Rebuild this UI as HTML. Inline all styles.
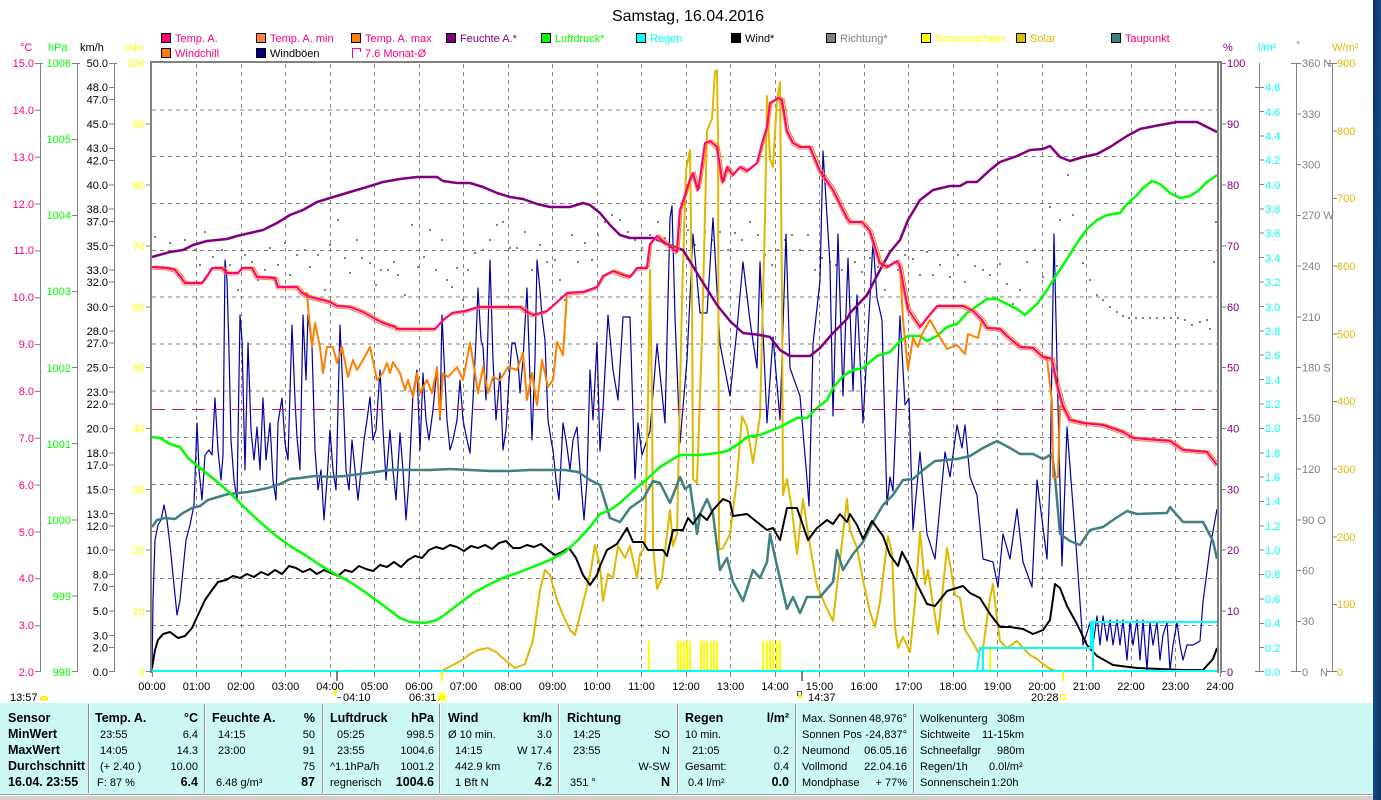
<!DOCTYPE html>
<html><head><meta charset="utf-8">
<style>
html,body{margin:0;padding:0;background:#fff;}
svg{display:block;font-family:"Liberation Sans",Arial,sans-serif;}
</style></head><body>
<svg width="1381" height="800" viewBox="0 0 1381 800" xmlns="http://www.w3.org/2000/svg">
<defs>
<linearGradient id="stripe" x1="0" y1="0" x2="1" y2="1">
<stop offset="0" stop-color="#0e2f5c"/><stop offset="0.5" stop-color="#134a86"/><stop offset="1" stop-color="#0b3466"/>
</linearGradient>
</defs>
<rect width="1381" height="800" fill="#fff"/>

<!-- Title -->
<text x="688" y="21" font-size="16" text-anchor="middle" fill="#000">Samstag, 16.04.2016</text>

<!-- Legend -->
<g font-size="11">
<rect x="161.5" y="33.5" width="9" height="9" fill="#ff0080" stroke="#000"/><text x="175" y="42" fill="#ff0080">Temp. A.</text>
<rect x="256.5" y="33.5" width="9" height="9" fill="#ff8040" stroke="#000"/><text x="270" y="42" fill="#ff0080">Temp. A. min</text>
<rect x="351.5" y="33.5" width="9" height="9" fill="#ff8000" stroke="#000"/><text x="365" y="42" fill="#ff0080">Temp. A. max</text>
<rect x="446.5" y="33.5" width="9" height="9" fill="#800080" stroke="#000"/><text x="460" y="42" fill="#800080">Feuchte A.*</text>
<rect x="541.5" y="33.5" width="9" height="9" fill="#00ff00" stroke="#000"/><text x="555" y="42" fill="#00ff00">Luftdruck*</text>
<rect x="636.5" y="33.5" width="9" height="9" fill="#00ffff" stroke="#000"/><text x="650" y="42" fill="#00ffff">Regen</text>
<rect x="731.5" y="33.5" width="9" height="9" fill="#000" stroke="#000"/><text x="745" y="42" fill="#000">Wind*</text>
<rect x="826.5" y="33.5" width="9" height="9" fill="#808080" stroke="#000"/><text x="840" y="42" fill="#808080">Richtung*</text>
<rect x="921.5" y="33.5" width="9" height="9" fill="#ffff00" stroke="#000"/><text x="935" y="42" fill="#ffff00">Sonnenschein</text>
<rect x="1016.5" y="33.5" width="9" height="9" fill="#e0b800" stroke="#000"/><text x="1030" y="42" fill="#e0b800">Solar</text>
<rect x="1111.5" y="33.5" width="9" height="9" fill="#408080" stroke="#000"/><text x="1125" y="42" fill="#ff0080">Taupunkt</text>
<rect x="161.5" y="48.5" width="9" height="9" fill="#ff8000" stroke="#000"/><text x="175" y="57" fill="#ff0080">Windchill</text>
<rect x="256.5" y="48.5" width="9" height="9" fill="#000080" stroke="#000"/><text x="270" y="57" fill="#000">Windböen</text>
<path d="M352.5,58 V48.5 H360.5 V52" fill="none" stroke="#ff0080"/><text x="365" y="57" fill="#ff0080">7.6 Monat-Ø</text>
</g>

<!-- Units -->
<g font-size="11">
<text x="20" y="51" fill="#ff0080">°C</text>
<text x="48" y="51" fill="#00ff00">hPa</text>
<text x="80" y="51" fill="#000">km/h</text>
<text x="125" y="51" fill="#ffff00">min</text>
<text x="1223" y="51" fill="#800080">%</text>
<text x="1258" y="51" fill="#00ffff">l/m²</text>
<text x="1296" y="49" fill="#808080">°</text>
<text x="1332" y="51" fill="#e0b800">W/m²</text>
</g>

<!-- Left axis lines -->
<g stroke="#808080" stroke-width="1" fill="none">
<line x1="40.5" y1="63" x2="40.5" y2="672"/>
<line x1="77.5" y1="63" x2="77.5" y2="672"/>
<line x1="114.5" y1="63" x2="114.5" y2="672"/>
<line x1="1259.5" y1="63" x2="1259.5" y2="672"/>
<line x1="1296.5" y1="63" x2="1296.5" y2="672"/>
<line x1="1332.5" y1="63" x2="1332.5" y2="672"/>
</g>

<!-- °C axis -->
<g font-size="11" fill="#ff0080" text-anchor="end">
<text x="34" y="67">15.0</text><text x="34" y="114">14.0</text><text x="34" y="161">13.0</text><text x="34" y="208">12.0</text><text x="34" y="254">11.0</text><text x="34" y="301">10.0</text><text x="34" y="348">9.0</text><text x="34" y="395">8.0</text><text x="34" y="442">7.0</text><text x="34" y="489">6.0</text><text x="34" y="536">5.0</text><text x="34" y="582">4.0</text><text x="34" y="629">3.0</text><text x="34" y="676">2.0</text>
</g>
<g stroke="#808080">
<path d="M35,63.5H43M35,110.3H41M35,157.2H41M35,204H41M35,250.9H41M35,297.7H41M35,344.6H41M35,391.4H41M35,438.3H41M35,485.1H41M35,532H41M35,578.8H41M35,625.7H41M35,671.5H41"/>
</g>
<!-- hPa axis -->
<g font-size="11" fill="#00ff00" text-anchor="end">
<text x="71" y="67">1006</text><text x="71" y="143">1005</text><text x="71" y="219">1004</text><text x="71" y="295">1003</text><text x="71" y="372">1002</text><text x="71" y="448">1001</text><text x="71" y="524">1000</text><text x="71" y="600">999</text><text x="71" y="676">998</text>
</g>
<g stroke="#808080">
<path d="M72,63.5H80M72,139.5H78M72,215.5H78M72,291.5H78M72,367.5H78M72,443.5H78M72,520H78M72,596H78M72,671.5H78"/>
</g>
<!-- km/h axis -->
<g font-size="11" fill="#000" text-anchor="end">
<text x="108" y="67">50.0</text><text x="108" y="91">48.0</text><text x="108" y="103.5">47.0</text><text x="108" y="128">45.0</text><text x="108" y="152">43.0</text><text x="108" y="164.5">42.0</text><text x="108" y="189">40.0</text><text x="108" y="213">38.0</text><text x="108" y="225.5">37.0</text><text x="108" y="250">35.0</text><text x="108" y="274">33.0</text><text x="108" y="286">32.0</text><text x="108" y="311">30.0</text><text x="108" y="335">28.0</text><text x="108" y="347">27.0</text><text x="108" y="371.5">25.0</text><text x="108" y="396">23.0</text><text x="108" y="408">22.0</text><text x="108" y="432.5">20.0</text><text x="108" y="457">18.0</text><text x="108" y="469">17.0</text><text x="108" y="493.5">15.0</text><text x="108" y="518">13.0</text><text x="108" y="530">12.0</text><text x="108" y="554">10.0</text><text x="108" y="578.5">8.0</text><text x="108" y="591">7.0</text><text x="108" y="615">5.0</text><text x="108" y="639.5">3.0</text><text x="108" y="651.5">2.0</text><text x="108" y="676">0.0</text>
</g>
<g stroke="#808080">
<path d="M109,63.5H117M109,87.5H115M109,99.5H115M109,124H115M109,148.5H115M109,160.5H115M109,185H115M109,209H115M109,221.5H115M109,245.5H115M109,270H115M109,282H115M109,306.5H115M109,331H115M109,343H115M109,367.5H115M109,392H115M109,404H115M109,428.5H115M109,453H115M109,465H115M109,489.5H115M109,513.5H115M109,526H115M109,550H115M109,574.5H115M109,586.5H115M109,611H115M109,635.5H115M109,647.5H115M109,671.5H115"/>
</g>
<!-- min axis -->
<g font-size="11" fill="#ffff00" text-anchor="end">
<text x="145" y="67">100</text><text x="145" y="128">90</text><text x="145" y="189">80</text><text x="145" y="250">70</text><text x="145" y="311">60</text><text x="145" y="371.5">50</text><text x="145" y="432.5">40</text><text x="145" y="493.5">30</text><text x="145" y="554">20</text><text x="145" y="615">10</text><text x="145" y="676">0</text>
</g>
<g stroke="#808080">
<path d="M146,124H151M146,185H151M146,246H151M146,307H151M146,367.5H151M146,428.5H151M146,489.5H151M146,550H151M146,611H151M146,671.5H151"/>
</g>

<!-- Right axes -->
<g font-size="11" fill="#800080">
<text x="1227" y="67">100</text><text x="1227" y="128">90</text><text x="1227" y="189">80</text><text x="1227" y="250">70</text><text x="1227" y="311">60</text><text x="1227" y="371.5">50</text><text x="1227" y="432.5">40</text><text x="1227" y="493.5">30</text><text x="1227" y="554">20</text><text x="1227" y="615">10</text><text x="1227" y="676">0</text>
</g>
<g stroke="#808080">
<path d="M1221,63.5H1226M1221,124H1226M1221,185H1226M1221,246H1226M1221,307H1226M1221,367.5H1226M1221,428.5H1226M1221,489.5H1226M1221,550H1226M1221,611H1226M1221,671.5H1226"/>
</g>
<g font-size="11" fill="#00ffff">
<text x="1265" y="91">4.8</text><text x="1265" y="116">4.6</text><text x="1265" y="140">4.4</text><text x="1265" y="164">4.2</text><text x="1265" y="189">4.0</text><text x="1265" y="213">3.8</text><text x="1265" y="237">3.6</text><text x="1265" y="262">3.4</text><text x="1265" y="286">3.2</text><text x="1265" y="311">3.0</text><text x="1265" y="335">2.8</text><text x="1265" y="359">2.6</text><text x="1265" y="384">2.4</text><text x="1265" y="408">2.2</text><text x="1265" y="432">2.0</text><text x="1265" y="457">1.8</text><text x="1265" y="481">1.6</text><text x="1265" y="505">1.4</text><text x="1265" y="530">1.2</text><text x="1265" y="554">1.0</text><text x="1265" y="578">0.8</text><text x="1265" y="603">0.6</text><text x="1265" y="627">0.4</text><text x="1265" y="652">0.2</text><text x="1265" y="676">0.0</text>
</g>
<g stroke="#808080">
<path d="M1255,87.5H1264M1259,111.5H1264M1259,136H1264M1259,160H1264M1259,184.5H1264M1259,209H1264M1259,233H1264M1259,257.5H1264M1259,282H1264M1259,306.5H1264M1259,331H1264M1259,355H1264M1259,379.5H1264M1259,404H1264M1259,428.5H1264M1259,453H1264M1259,477H1264M1259,501.5H1264M1259,526H1264M1259,550H1264M1259,574.5H1264M1259,599H1264M1259,623.5H1264M1259,647.5H1264M1255,671.5H1264"/>
</g>
<g font-size="11" fill="#808080">
<text x="1302" y="67">360 N</text><text x="1302" y="118">330</text><text x="1302" y="168.5">300</text><text x="1302" y="219">270 W</text><text x="1302" y="270">240</text><text x="1302" y="321">210</text><text x="1302" y="371.5">180 S</text><text x="1302" y="422">150</text><text x="1302" y="473">120</text><text x="1302" y="524">90  O</text><text x="1302" y="574.5">60</text><text x="1302" y="625">30</text><text x="1302" y="676">0</text><text x="1320" y="676">N</text>
</g>
<g stroke="#808080">
<path d="M1291,63.5H1301M1296,114H1301M1296,164.5H1301M1296,215.5H1301M1296,266H1301M1296,317H1301M1296,367.5H1301M1296,418.5H1301M1296,469H1301M1296,520H1301M1296,570.5H1301M1296,621.5H1301M1291,671.5H1301"/>
</g>
<g font-size="11" fill="#e0b800">
<text x="1337" y="67">900</text><text x="1337" y="135">800</text><text x="1337" y="202">700</text><text x="1337" y="270">600</text><text x="1337" y="338">500</text><text x="1337" y="405">400</text><text x="1337" y="473">300</text><text x="1337" y="541">200</text><text x="1337" y="608">100</text><text x="1337" y="676">0</text>
</g>
<g stroke="#808080">
<path d="M1327,63.5H1337M1332,131H1337M1332,198.5H1337M1332,266H1337M1332,334H1337M1332,401.5H1337M1332,469H1337M1332,537H1337M1332,604.5H1337M1327,671.5H1337"/>
</g>

<!-- Plot grid -->
<g stroke="#808080" stroke-width="1" stroke-dasharray="4,4" fill="none">
<path d="M152,625.5H1218M152,578.5H1218M152,531.5H1218M152,484.5H1218M152,437.5H1218M152,391H1218M152,344H1218M152,297H1218M152,250.5H1218M152,203.5H1218M152,156.5H1218M152,110H1218"/>
<path d="M196.5,64V671M241.5,64V671M285.5,64V671M330.5,64V671M374.5,64V671M419.5,64V671M463.5,64V671M508.5,64V671M552.5,64V671M597.5,64V671M641.5,64V671M686.5,64V671M730.5,64V671M775.5,64V671M819.5,64V671M864.5,64V671M908.5,64V671M953.5,64V671M997.5,64V671M1042.5,64V671M1086.5,64V671M1131.5,64V671M1175.5,64V671"/>
</g>

<!-- Richtung dots -->
<g fill="#808080">
<rect x="154" y="236" width="2" height="2"/><rect x="161" y="267" width="2" height="2"/><rect x="169" y="242" width="2" height="2"/><rect x="177" y="274" width="2" height="2"/><rect x="184" y="239" width="2" height="2"/><rect x="194" y="249" width="2" height="2"/><rect x="199" y="264" width="2" height="2"/><rect x="204" y="231" width="2" height="2"/><rect x="212" y="256" width="2" height="2"/><rect x="221" y="249" width="2" height="2"/><rect x="229" y="264" width="2" height="2"/><rect x="237" y="289" width="2" height="2"/><rect x="244" y="254" width="2" height="2"/><rect x="251" y="261" width="2" height="2"/><rect x="257" y="279" width="2" height="2"/><rect x="264" y="269" width="2" height="2"/><rect x="269" y="247" width="2" height="2"/><rect x="277" y="264" width="2" height="2"/><rect x="284" y="242" width="2" height="2"/><rect x="289" y="274" width="2" height="2"/><rect x="296" y="254" width="2" height="2"/><rect x="304" y="249" width="2" height="2"/><rect x="309" y="266" width="2" height="2"/><rect x="317" y="254" width="2" height="2"/><rect x="324" y="289" width="2" height="2"/><rect x="329" y="244" width="2" height="2"/><rect x="337" y="219" width="2" height="2"/><rect x="344" y="257" width="2" height="2"/><rect x="349" y="272" width="2" height="2"/><rect x="356" y="239" width="2" height="2"/><rect x="361" y="257" width="2" height="2"/><rect x="369" y="262" width="2" height="2"/><rect x="375" y="284" width="2" height="2"/><rect x="380" y="269" width="2" height="2"/><rect x="387" y="269" width="2" height="2"/><rect x="393" y="261" width="2" height="2"/><rect x="397" y="274" width="2" height="2"/><rect x="404" y="294" width="2" height="2"/><rect x="411" y="224" width="2" height="2"/><rect x="417" y="266" width="2" height="2"/><rect x="423" y="256" width="2" height="2"/><rect x="429" y="229" width="2" height="2"/><rect x="435" y="269" width="2" height="2"/><rect x="441" y="239" width="2" height="2"/><rect x="446" y="279" width="2" height="2"/><rect x="451" y="286" width="2" height="2"/><rect x="456" y="267" width="2" height="2"/><rect x="462" y="299" width="2" height="2"/><rect x="467" y="269" width="2" height="2"/><rect x="474" y="252" width="2" height="2"/><rect x="482" y="249" width="2" height="2"/><rect x="489" y="239" width="2" height="2"/><rect x="496" y="224" width="2" height="2"/><rect x="502" y="221" width="2" height="2"/><rect x="509" y="247" width="2" height="2"/><rect x="516" y="247" width="2" height="2"/><rect x="524" y="231" width="2" height="2"/><rect x="531" y="269" width="2" height="2"/><rect x="539" y="244" width="2" height="2"/><rect x="546" y="261" width="2" height="2"/><rect x="554" y="259" width="2" height="2"/><rect x="559" y="279" width="2" height="2"/><rect x="564" y="299" width="2" height="2"/><rect x="571" y="234" width="2" height="2"/><rect x="577" y="261" width="2" height="2"/><rect x="584" y="242" width="2" height="2"/><rect x="591" y="259" width="2" height="2"/><rect x="597" y="234" width="2" height="2"/><rect x="604" y="221" width="2" height="2"/><rect x="611" y="214" width="2" height="2"/><rect x="619" y="219" width="2" height="2"/><rect x="627" y="231" width="2" height="2"/><rect x="634" y="239" width="2" height="2"/><rect x="641" y="247" width="2" height="2"/><rect x="649" y="234" width="2" height="2"/><rect x="657" y="221" width="2" height="2"/><rect x="664" y="237" width="2" height="2"/><rect x="671" y="244" width="2" height="2"/><rect x="679" y="224" width="2" height="2"/><rect x="687" y="229" width="2" height="2"/><rect x="694" y="244" width="2" height="2"/><rect x="704" y="231" width="2" height="2"/><rect x="711" y="239" width="2" height="2"/><rect x="719" y="231" width="2" height="2"/><rect x="727" y="249" width="2" height="2"/><rect x="734" y="232" width="2" height="2"/><rect x="741" y="239" width="2" height="2"/><rect x="749" y="221" width="2" height="2"/><rect x="757" y="234" width="2" height="2"/><rect x="764" y="254" width="2" height="2"/><rect x="771" y="264" width="2" height="2"/><rect x="777" y="249" width="2" height="2"/><rect x="784" y="239" width="2" height="2"/><rect x="791" y="234" width="2" height="2"/><rect x="799" y="249" width="2" height="2"/><rect x="807" y="234" width="2" height="2"/><rect x="814" y="269" width="2" height="2"/><rect x="821" y="257" width="2" height="2"/><rect x="829" y="261" width="2" height="2"/><rect x="835" y="264" width="2" height="2"/><rect x="841" y="269" width="2" height="2"/><rect x="847" y="277" width="2" height="2"/><rect x="854" y="261" width="2" height="2"/><rect x="861" y="271" width="2" height="2"/><rect x="869" y="257" width="2" height="2"/><rect x="877" y="266" width="2" height="2"/><rect x="884" y="289" width="2" height="2"/><rect x="891" y="249" width="2" height="2"/><rect x="897" y="269" width="2" height="2"/><rect x="904" y="254" width="2" height="2"/><rect x="912" y="258" width="2" height="2"/><rect x="919" y="274" width="2" height="2"/><rect x="926" y="251" width="2" height="2"/><rect x="932" y="274" width="2" height="2"/><rect x="939" y="264" width="2" height="2"/><rect x="949" y="276" width="2" height="2"/><rect x="957" y="254" width="2" height="2"/><rect x="964" y="281" width="2" height="2"/><rect x="974" y="265" width="2" height="2"/><rect x="982" y="269" width="2" height="2"/><rect x="989" y="274" width="2" height="2"/><rect x="999" y="263" width="2" height="2"/><rect x="1006" y="283" width="2" height="2"/><rect x="1012" y="303" width="2" height="2"/><rect x="1019" y="289" width="2" height="2"/><rect x="1026" y="261" width="2" height="2"/><rect x="1034" y="249" width="2" height="2"/><rect x="1042" y="276" width="2" height="2"/><rect x="1049" y="206" width="2" height="2"/><rect x="1056" y="265" width="2" height="2"/><rect x="1059" y="219" width="2" height="2"/><rect x="1067" y="174" width="2" height="2"/><rect x="1072" y="214" width="2" height="2"/><rect x="1079" y="237" width="2" height="2"/><rect x="1082" y="262" width="2" height="2"/><rect x="1089" y="279" width="2" height="2"/><rect x="1096" y="294" width="2" height="2"/><rect x="1102" y="299" width="2" height="2"/><rect x="1109" y="306" width="2" height="2"/><rect x="1116" y="311" width="2" height="2"/><rect x="1122" y="315" width="2" height="2"/><rect x="1128" y="317" width="2" height="2"/><rect x="1135" y="317" width="2" height="2"/><rect x="1142" y="317" width="2" height="2"/><rect x="1149" y="317" width="2" height="2"/><rect x="1156" y="317" width="2" height="2"/><rect x="1163" y="317" width="2" height="2"/><rect x="1170" y="317" width="2" height="2"/><rect x="1177" y="317" width="2" height="2"/><rect x="1184" y="319" width="2" height="2"/><rect x="1191" y="324" width="2" height="2"/><rect x="1199" y="321" width="2" height="2"/><rect x="1206" y="319" width="2" height="2"/><rect x="1209" y="328" width="2" height="2"/><rect x="1213" y="261" width="2" height="2"/><rect x="1215" y="221" width="2" height="2"/>
</g>

<!-- Sonnenschein bars -->
<g stroke="#ffff00" stroke-width="2">
<path d="M649,641V671M678,641V671M681,641V671M684,641V671M687,641V671M690,641V671M701,641V671M704,641V671M707,641V671M711,641V671M714,641V671M717,641V671M763,641V671M767,641V671M770,641V671M773,641V671M777,641V671M780,641V671M990,648V672"/>
</g>

<!-- Windböen -->
<polyline fill="none" stroke="#0000a0" stroke-width="1.2" stroke-linejoin="round" points="152,672 153,600 155,540 158,525 161,520 164,505 167,520 170,545 173,575 177,615 180,600 183,570 186,540 190,525 194,505 197,423 199,470 202,500 205,455 209,450 212,455 215,398 218,450 221,480 223,455 225,260 227,280 229,350 231,440 234,480 237,500 240,315 242,340 245,470 248,343 251,430 254,460 257,427 260,470 263,398 266,460 270,423 273,480 276,500 278,423 282,398 285,443 288,460 292,325 295,400 297,437 300,470 303,315 306,380 308,315 312,347 315,450 318,490 321,470 324,520 327,480 330,430 333,470 336,490 340,325 343,393 346,470 349,490 352,440 355,470 358,500 361,470 364,440 367,420 370,397 373,440 376,430 380,370 383,430 386,480 390,430 393,470 396,500 400,433 403,470 406,520 409,480 413,393 417,370 420,450 423,373 426,420 429,440 433,410 437,367 440,420 442,315 445,380 447,420 450,450 453,440 457,420 460,380 463,420 467,440 470,453 473,400 476,340 478,288 481,340 483,347 486,400 488,330 490,260 493,360 496,420 500,373 503,450 506,430 509,380 512,343 515,343 518,360 520,393 523,360 527,288 530,380 532,440 535,360 537,260 540,290 542,317 545,340 548,420 551,440 553,450 556,480 559,500 563,423 566,440 570,470 573,440 577,427 580,470 584,520 587,480 590,370 593,420 597,342 600,451 603,408 608,315 613,370 618,400 623,317 630,317 635,479 638,423 642,455 650,431 657,344 665,423 670,218 672,206 675,317 680,443 687,360 693,234 700,313 707,313 713,218 720,344 730,396 737,329 743,262 750,321 757,368 760,262 767,423 773,337 780,420 786,234 790,368 800,396 807,479 809,506 813,344 820,281 823,151 830,265 833,416 838,234 843,396 848,258 853,391 857,295 863,423 870,298 873,241 877,298 882,320 887,505 890,477 893,491 900,316 905,405 909,398 913,530 920,452 927,534 935,559 945,452 950,477 957,425 962,448 965,425 970,477 977,495 983,559 993,562 998,587 1003,534 1010,559 1017,509 1023,562 1032,587 1037,480 1047,559 1050,480 1054,234 1058,405 1062,566 1067,427 1077,559 1083,645 1090,623 1093,645 1097,616 1100,645 1103,616 1107,641 1110,620 1113,645 1117,620 1120,645 1123,620 1127,660 1130,622 1133,645 1137,620 1140,660 1143,620 1147,670 1150,622 1153,645 1157,622 1160,660 1163,635 1167,622 1170,670 1173,645 1177,622 1180,645 1183,660 1187,645 1193,645 1200,641 1203,602 1210,548 1217,509"/>

<!-- Solar -->
<polyline fill="none" stroke="#e0b800" stroke-width="2" stroke-linejoin="round" points="440,672 447,668 455,664 462,660 470,654 478,650 488,648 496,652 505,660 515,668 525,664 533,640 540,590 545,570 550,575 557,600 563,615 570,630 575,635 580,615 585,595 590,575 595,545 600,566 603,601 608,574 613,578 618,546 625,558 630,546 637,578 640,554 645,546 648,400 650,270 652,400 653,546 657,589 662,578 667,534 670,510 673,546 677,534 682,300 686,170 690,150 692,300 693,479 697,483 702,337 707,131 712,119 715,72 717,70 718,139 719,550 723,548 730,534 737,479 742,416 747,427 753,463 760,416 765,218 767,96 770,159 773,167 777,100 780,82 782,297 783,495 787,479 792,510 797,554 803,499 810,546 817,586 827,609 833,621 843,534 847,499 850,530 857,548 863,580 870,612 875,627 880,602 883,577 888,536 892,553 895,627 898,648 903,637 910,652 915,602 920,532 925,584 928,570 932,598 938,634 943,587 947,548 950,564 955,595 960,598 965,630 972,641 978,652 983,648 990,598 993,584 997,619 1000,641 1007,648 1017,641 1023,648 1030,655 1037,659 1043,664 1050,669 1057,671"/>

<!-- Taupunkt -->
<polyline fill="none" stroke="#408080" stroke-width="2.5" stroke-linejoin="round" points="152,527 157,520 165,518 175,519 183,513 192,508 200,506 208,500 218,497 228,494 238,493 248,492 258,490 268,488 280,484 290,479 300,478 315,476 330,477 345,476 360,474 375,472 390,470 410,470 430,470 450,469 470,470 490,471 510,471 530,470 550,470 565,470 578,472 590,480 600,485 603,495 610,518 620,522 630,508 643,499 653,481 660,483 670,503 680,477 685,489 690,485 697,534 700,514 707,499 713,514 720,570 727,558 733,582 743,601 753,570 760,578 767,562 770,534 777,566 787,609 793,597 800,613 807,597 820,597 833,582 837,550 843,570 853,554 863,542 873,522 883,505 893,495 903,480 913,479 923,470 935,461 957,459 970,456 983,448 997,441 1010,448 1020,454 1033,454 1043,459 1052,454 1055,477 1060,534 1070,541 1080,545 1090,530 1103,527 1113,520 1127,511 1137,514 1167,513 1170,507 1183,522 1203,522 1213,541 1217,559"/>

<!-- Wind -->
<polyline fill="none" stroke="#000" stroke-width="2" stroke-linejoin="round" points="152,668 155,650 158,640 163,634 170,632 178,638 185,636 192,628 198,615 205,600 212,590 218,582 226,580 233,576 240,578 247,574 254,577 261,572 268,575 275,570 282,574 289,566 296,568 303,572 310,569 317,574 324,570 331,573 338,576 345,570 352,572 359,566 366,569 373,571 380,565 387,567 394,562 401,567 408,560 415,556 422,558 429,550 436,547 443,549 450,545 457,547 464,551 471,546 478,548 485,545 492,549 499,543 506,541 513,548 520,548 527,545 534,547 541,544 548,550 555,555 562,552 569,548 576,558 583,575 590,585 597,575 600,566 607,550 617,544 627,528 633,542 643,542 648,550 663,550 667,556 673,530 683,530 688,518 693,524 700,514 707,520 713,510 723,499 730,502 733,516 747,514 757,522 767,530 773,528 780,540 787,508 797,508 808,540 817,528 827,520 833,524 840,514 847,522 850,514 857,525 863,539 872,521 883,536 890,555 898,566 902,552 908,563 917,584 927,604 935,606 947,591 963,586 970,593 980,598 990,614 1000,627 1010,627 1023,629 1033,634 1043,630 1050,620 1055,584 1060,588 1067,606 1077,624 1087,645 1097,656 1113,665 1137,668 1183,670 1203,670 1213,659 1217,648"/>

<!-- Luftdruck -->
<polyline fill="none" stroke="#00ff00" stroke-width="2.5" stroke-linejoin="round" points="152,437 160,438 170,444 180,447 188,458 200,468 215,480 230,493 245,508 260,522 275,535 290,546 305,555 320,565 335,574 350,582 365,592 380,603 392,612 400,618 410,622 425,623 437,620 447,613 460,603 475,592 490,584 505,577 520,572 535,566 550,560 565,552 578,540 590,527 600,514 610,510 620,503 633,491 647,479 660,467 673,459 680,455 700,455 717,453 727,451 740,443 747,437 760,435 780,427 797,418 807,418 817,408 827,400 833,388 843,376 853,370 863,368 877,356 890,352 900,341 908,336 920,336 927,341 937,336 947,327 957,324 967,313 977,306 987,299 997,299 1007,304 1017,309 1025,315 1037,304 1047,290 1057,274 1067,259 1077,243 1087,229 1097,220 1107,215 1120,213 1127,204 1137,195 1143,188 1152,181 1160,184 1170,193 1180,198 1190,196 1198,191 1207,182 1217,175"/>

<!-- Feuchte -->
<polyline fill="none" stroke="#800080" stroke-width="2.5" stroke-linejoin="round" points="152,257 170,252 183,250 193,245 207,241 227,239 237,236 250,233 263,230 277,223 290,215 303,210 317,202 330,198 350,192 367,187 383,182 400,179 417,177 437,177 443,181 457,183 470,183 483,187 497,193 510,197 523,199 537,204 550,207 570,207 583,203 590,205 600,213 610,225 620,235 630,238 653,238 667,244 683,250 697,273 707,289 717,305 730,321 743,333 760,335 770,337 780,350 790,356 810,356 820,348 833,333 847,319 850,313 867,295 880,270 890,252 900,240 908,220 920,200 933,190 950,186 960,186 967,182 977,182 990,170 1000,162 1017,156 1030,150 1043,149 1050,146 1060,157 1070,161 1083,157 1097,154 1110,147 1127,136 1140,129 1160,125 1177,122 1197,122 1217,132"/>

<!-- Regen -->
<line x1="152" y1="671" x2="1219" y2="671" stroke="#00ffff" stroke-width="2"/>
<polyline fill="none" stroke="#00ffff" stroke-width="2" points="977,672 980,648 1091,648 1091,622 1219,622"/>
<path d="M983,648V672M1093,622V672" stroke="#00ffff" stroke-width="2"/>

<!-- Monat dashed -->
<line x1="152" y1="409.5" x2="1218" y2="409.5" stroke="#c8186e" stroke-width="1" stroke-dasharray="13,7"/>

<!-- Windchill -->
<polyline fill="none" stroke="#ff8000" stroke-width="2" stroke-linejoin="round" points="152,267 167,268 175,270 180,276 185,283 202,283 207,276 212,268 222,268 227,273 238,273 242,268 252,268 257,277 275,278 278,287 297,287 302,293 307,293 308,307 312,347 315,323 320,347 323,373 327,347 333,347 337,363 342,347 348,377 353,360 357,370 363,360 370,347 377,380 383,373 387,363 390,373 393,362 400,373 405,390 408,380 413,397 417,373 420,393 427,380 432,393 437,368 440,417 443,373 448,377 457,367 463,380 470,343 475,373 478,393 483,367 488,393 493,377 500,380 508,367 517,370 523,353 527,400 532,373 537,405 542,360 548,387 553,380 557,342 563,355 567,293 583,292 597,287 603,276 613,271 623,275 630,277 637,268 647,268 650,244 657,236 667,244 677,252 680,210 685,195 690,179 693,173 698,190 700,179 705,143 710,141 717,147 722,179 723,182 727,167 733,175 740,167 747,171 757,163 763,140 767,127 770,103 775,100 778,98 782,100 787,131 793,143 800,147 810,147 820,171 833,190 847,218 850,222 862,222 870,231 880,263 887,267 897,261 900,266 903,320 908,370 913,338 918,347 922,334 930,320 938,334 947,349 957,345 965,354 968,334 978,338 982,320 987,328 1000,329 1007,336 1020,347 1033,348 1043,357 1047,359 1052,402 1053,477 1058,477 1060,406 1063,406 1070,420 1083,423 1103,425 1123,432 1133,438 1170,441 1183,450 1207,452 1217,465"/>

<!-- Temp min / max / A -->
<polyline transform="translate(-1,2)" fill="none" stroke="#ff8040" stroke-width="1" points="152,267 167,268 175,270 180,276 185,283 202,283 207,276 212,268 222,268 227,273 238,273 242,268 252,268 257,277 275,278 278,287 297,287 302,293 310,297 330,302 337,306 350,307 363,312 377,320 383,323 395,327 397,329 435,329 443,320 452,313 465,311 478,307 520,307 527,312 533,315 547,311 557,302 567,293 583,292 597,287 603,276 613,271 623,275 630,277 637,268 647,268 650,244 657,236 667,244 677,252 680,210 685,195 690,179 693,173 698,190 700,179 705,143 710,141 717,147 722,179 723,182 727,167 733,175 740,167 747,171 757,163 763,140 767,127 770,103 775,100 778,98 782,100 787,131 793,143 800,147 810,147 820,171 833,190 847,218 850,222 862,222 870,231 880,263 887,267 897,261 900,266 908,309 920,327 927,318 937,306 963,306 973,311 982,320 987,328 1000,329 1007,336 1020,347 1033,348 1043,357 1052,359 1057,384 1063,406 1070,420 1083,423 1103,425 1123,432 1133,438 1170,441 1183,450 1207,452 1217,465"/>
<polyline transform="translate(2,-1)" fill="none" stroke="#ff8000" stroke-width="1" points="152,267 167,268 175,270 180,276 185,283 202,283 207,276 212,268 222,268 227,273 238,273 242,268 252,268 257,277 275,278 278,287 297,287 302,293 310,297 330,302 337,306 350,307 363,312 377,320 383,323 395,327 397,329 435,329 443,320 452,313 465,311 478,307 520,307 527,312 533,315 547,311 557,302 567,293 583,292 597,287 603,276 613,271 623,275 630,277 637,268 647,268 650,244 657,236 667,244 677,252 680,210 685,195 690,179 693,173 698,190 700,179 705,143 710,141 717,147 722,179 723,182 727,167 733,175 740,167 747,171 757,163 763,140 767,127 770,103 775,100 778,98 782,100 787,131 793,143 800,147 810,147 820,171 833,190 847,218 850,222 862,222 870,231 880,263 887,267 897,261 900,266 908,309 920,327 927,318 937,306 963,306 973,311 982,320 987,328 1000,329 1007,336 1020,347 1033,348 1043,357 1052,359 1057,384 1063,406 1070,420 1083,423 1103,425 1123,432 1133,438 1170,441 1183,450 1207,452 1217,465"/>
<polyline fill="none" stroke="#ff0080" stroke-width="2" stroke-linejoin="round" points="152,267 167,268 175,270 180,276 185,283 202,283 207,276 212,268 222,268 227,273 238,273 242,268 252,268 257,277 275,278 278,287 297,287 302,293 310,297 330,302 337,306 350,307 363,312 377,320 383,323 395,327 397,329 435,329 443,320 452,313 465,311 478,307 520,307 527,312 533,315 547,311 557,302 567,293 583,292 597,287 603,276 613,271 623,275 630,277 637,268 647,268 650,244 657,236 667,244 677,252 680,210 685,195 690,179 693,173 698,190 700,179 705,143 710,141 717,147 722,179 723,182 727,167 733,175 740,167 747,171 757,163 763,140 767,127 770,103 775,100 778,98 782,100 787,131 793,143 800,147 810,147 820,171 833,190 847,218 850,222 862,222 870,231 880,263 887,267 897,261 900,266 908,309 920,327 927,318 937,306 963,306 973,311 982,320 987,328 1000,329 1007,336 1020,347 1033,348 1043,357 1052,359 1057,384 1063,406 1070,420 1083,423 1103,425 1123,432 1133,438 1170,441 1183,450 1207,452 1217,465"/>

<!-- Plot border -->
<rect x="150" y="61" width="2" height="612" fill="#808080"/>
<rect x="150" y="61" width="1072" height="2" fill="#808080"/>
<rect x="1217" y="61" width="2" height="612" fill="#808080"/>
<rect x="1220" y="61" width="2" height="612" fill="#808080"/>

<!-- X axis ticks -->
<g stroke="#808080">
<path d="M152.5,672V677M196.5,672V677M241.5,672V677M285.5,672V677M330.5,672V677M374.5,672V677M419.5,672V677M463.5,672V677M508.5,672V677M552.5,672V677M597.5,672V677M641.5,672V677M686.5,672V677M730.5,672V677M775.5,672V677M819.5,672V677M864.5,672V677M908.5,672V677M953.5,672V677M997.5,672V677M1042.5,672V677M1086.5,672V677M1131.5,672V677M1175.5,672V677M1220.5,672V677"/>
</g>
<rect x="336" y="671" width="2" height="10" fill="#808080"/>
<rect x="801" y="671" width="2" height="10" fill="#808080"/>
<rect x="441" y="671" width="2" height="10" fill="#ffff00"/>
<rect x="1062" y="671" width="2" height="10" fill="#ffff00"/>

<g font-size="11" fill="#000" text-anchor="middle">
<text x="152" y="690">00:00</text><text x="196.5" y="690">01:00</text><text x="241" y="690">02:00</text><text x="285.5" y="690">03:00</text><text x="330" y="690">04:00</text><text x="374.5" y="690">05:00</text><text x="419" y="690">06:00</text><text x="463.5" y="690">07:00</text><text x="508" y="690">08:00</text><text x="552.5" y="690">09:00</text><text x="597" y="690">10:00</text><text x="641.5" y="690">11:00</text><text x="686" y="690">12:00</text><text x="730.5" y="690">13:00</text><text x="775" y="690">14:00</text><text x="819.5" y="690">15:00</text><text x="864" y="690">16:00</text><text x="908.5" y="690">17:00</text><text x="953" y="690">18:00</text><text x="997.5" y="690">19:00</text><text x="1042" y="690">20:00</text><text x="1086.5" y="690">21:00</text><text x="1131" y="690">22:00</text><text x="1175.5" y="690">23:00</text><text x="1220" y="690">24:00</text>
</g>
<g font-size="11" fill="#000">
<text x="10" y="701">13:57</text>
<text x="343" y="701">04:10</text>
<text x="409" y="701">06:31</text>
<text x="808" y="701">14:37</text>
<text x="1031" y="701">20:28</text>
</g>
<path d="M40,700 A4,4 0 0 1 48,700 Z" fill="#ffff00" stroke="#e0c000" stroke-width="0.5"/>
<path d="M333,690 L338,690 L335.5,697 Z" fill="#ffff00"/><rect x="337" y="697" width="4" height="1" fill="#4040ff"/>
<circle cx="442" cy="697" r="3.5" fill="#ffff00"/>
<g stroke="#ffff00" stroke-width="1"><path d="M436,697H448M442,691V703M438,693L446,701M446,693L438,701"/></g>
<rect x="797.5" y="691.5" width="4" height="4" fill="none" stroke="#4040ff"/>
<path d="M800,692 L803,698 L797,698 Z" fill="#ffff00"/>
<rect x="1060.5" y="694.5" width="5" height="5" fill="none" stroke="#ffff00"/>

<!-- Table -->
<rect x="0" y="703" width="1373" height="91" fill="#ccf8f4"/>
<rect x="0" y="794" width="1373" height="6" fill="#d4d0c8"/>
<line x1="0" y1="794.5" x2="1373" y2="794.5" stroke="#a0a0a0"/>
<line x1="0" y1="795.5" x2="1373" y2="795.5" stroke="#ffffff"/>
<g stroke="#909090">
<path d="M88.5,704V793M204.5,704V793M322.5,704V793M439.5,704V793M558.5,704V793M677.5,704V793M795.5,704V793M913.5,704V793"/>
</g>
<g stroke="#ffffff">
<path d="M89.5,704V793M205.5,704V793M323.5,704V793M440.5,704V793M559.5,704V793M678.5,704V793M796.5,704V793M914.5,704V793"/>
</g>

<g font-size="12.5" font-weight="bold" fill="#000">
<text x="8" y="722">Sensor</text>
<text x="8" y="738">MinWert</text>
<text x="8" y="754">MaxWert</text>
<text x="8" y="770">Durchschnitt</text>
<text x="8" y="786">16.04. 23:55</text>
<text x="95" y="722">Temp. A.</text>
<text x="212" y="722">Feuchte A.</text>
<text x="330" y="722">Luftdruck</text>
<text x="448" y="722">Wind</text>
<text x="567" y="722">Richtung</text>
<text x="685" y="722">Regen</text>
</g>
<g font-size="12.5" font-weight="bold" fill="#000" text-anchor="end">
<text x="198" y="722">°C</text>
<text x="315" y="722">%</text>
<text x="434" y="722">hPa</text>
<text x="552" y="722">km/h</text>
<text x="789" y="722">l/m²</text>
<text x="198" y="786">6.4</text>
<text x="315" y="786">87</text>
<text x="434" y="786">1004.6</text>
<text x="552" y="786">4.2</text>
<text x="670" y="786">N</text>
<text x="789" y="786">0.0</text>
</g>
<g font-size="11" fill="#000">
<text x="100" y="738">23:55</text>
<text x="100" y="754">14:05</text>
<text x="100" y="770">(+ 2.40 )</text>
<text x="97" y="786">F: 87 %</text>
<text x="218" y="738">14:15</text>
<text x="218" y="754">23:00</text>
<text x="216" y="786">6.48 g/m³</text>
<text x="337" y="738">05:25</text>
<text x="337" y="754">23:55</text>
<text x="330" y="770">^1.1hPa/h</text>
<text x="330" y="786">regnerisch</text>
<text x="448" y="738">Ø 10 min.</text>
<text x="455" y="754">14:15</text>
<text x="455" y="770">442.9 km</text>
<text x="455" y="786">1 Bft N</text>
<text x="573" y="738">14:25</text>
<text x="573" y="754">23:55</text>
<text x="570" y="786">351 °</text>
<text x="685" y="738">10 min.</text>
<text x="692" y="754">21:05</text>
<text x="685" y="770">Gesamt:</text>
<text x="688" y="786">0.4 l/m²</text>
<text x="802" y="722">Max. Sonnen</text>
<text x="802" y="738">Sonnen Pos</text>
<text x="802" y="754">Neumond</text>
<text x="802" y="770">Vollmond</text>
<text x="802" y="786">Mondphase</text>
<text x="920" y="722">Wolkenunterg</text>
<text x="920" y="738">Sichtweite</text>
<text x="920" y="754">Schneefallgr</text>
<text x="920" y="770">Regen/1h</text>
<text x="920" y="786">Sonnenschein</text>
<text x="997" y="722">308m</text>
<text x="982" y="738">11-15km</text>
<text x="997" y="754">980m</text>
<text x="989" y="770">0.0l/m²</text>
<text x="991" y="786">1:20h</text>
</g>
<g font-size="11" fill="#000" text-anchor="end">
<text x="198" y="738">6.4</text>
<text x="198" y="754">14.3</text>
<text x="198" y="770">10.00</text>
<text x="315" y="738">50</text>
<text x="315" y="754">91</text>
<text x="315" y="770">75</text>
<text x="434" y="738">998.5</text>
<text x="434" y="754">1004.6</text>
<text x="434" y="770">1001.2</text>
<text x="552" y="738">3.0</text>
<text x="552" y="754">W 17.4</text>
<text x="552" y="770">7.6</text>
<text x="670" y="738">SO</text>
<text x="670" y="754">N</text>
<text x="670" y="770">W-SW</text>
<text x="789" y="754">0.2</text>
<text x="789" y="770">0.4</text>
<text x="907" y="722">48,976°</text>
<text x="907" y="738">-24,837°</text>
<text x="907" y="754">06.05.16</text>
<text x="907" y="770">22.04.16</text>
<text x="907" y="786">+ 77%</text>
</g>

<!-- Right desktop stripe -->
<rect x="1373" y="0" width="8" height="800" fill="url(#stripe)"/>
</svg>
</body></html>
